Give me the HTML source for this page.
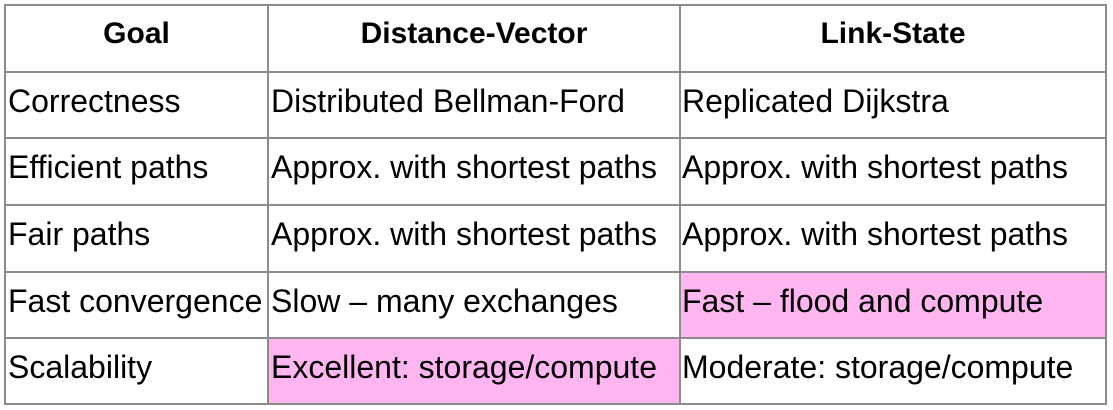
<!DOCTYPE html>
<html><head><style>
body{margin:0;width:1113px;height:410px;background:#fff;position:relative;overflow:hidden;font-family:"Liberation Sans",sans-serif;}
.h,.v{position:absolute;background:#8c8c8c;}
.h{height:2px;left:4px;width:1103px;}
.v{width:2px;top:4px;height:401px;}
.pink{position:absolute;background:#ffb5f0;}
.t{position:absolute;font-size:32px;color:#000;white-space:nowrap;line-height:30px;}
.b{font-weight:bold;font-size:30px;text-align:center;}
</style></head><body>
<div class="pink" style="left:680px;top:272px;width:426px;height:66px"></div>
<div class="pink" style="left:269px;top:338px;width:411px;height:66px"></div>
<div class="h" style="top:4px"></div>
<div class="h" style="top:71px"></div>
<div class="h" style="top:137px"></div>
<div class="h" style="top:204px"></div>
<div class="h" style="top:271px"></div>
<div class="h" style="top:337px"></div>
<div class="h" style="top:403px"></div>
<div class="v" style="left:4px"></div>
<div class="v" style="left:267px"></div>
<div class="v" style="left:679px"></div>
<div class="v" style="left:1105px"></div>

<div class="t b" style="left:6px;width:261px;top:19px">Goal</div>
<div class="t b" style="left:269px;width:410px;top:19px">Distance-Vector</div>
<div class="t b" style="left:681px;width:424px;top:19px">Link-State</div>

<div class="t" style="left:8px;top:86px">Correctness</div>
<div class="t" style="left:271px;top:86px">Distributed Bellman-Ford</div>
<div class="t" style="left:682px;top:86px">Replicated Dijkstra</div>

<div class="t" style="left:8px;top:152px">Efficient paths</div>
<div class="t" style="left:271px;top:152px">Approx. with shortest paths</div>
<div class="t" style="left:682px;top:152px">Approx. with shortest paths</div>

<div class="t" style="left:8px;top:219px">Fair paths</div>
<div class="t" style="left:271px;top:219px">Approx. with shortest paths</div>
<div class="t" style="left:682px;top:219px">Approx. with shortest paths</div>

<div class="t" style="left:8px;top:286px">Fast convergence</div>
<div class="t" style="left:271px;top:286px">Slow – many exchanges</div>
<div class="t" style="left:682px;top:286px">Fast – flood and compute</div>

<div class="t" style="left:8px;top:352px">Scalability</div>
<div class="t" style="left:271px;top:352px">Excellent: storage/compute</div>
<div class="t" style="left:682px;top:352px">Moderate: storage/compute</div>
</body></html>
